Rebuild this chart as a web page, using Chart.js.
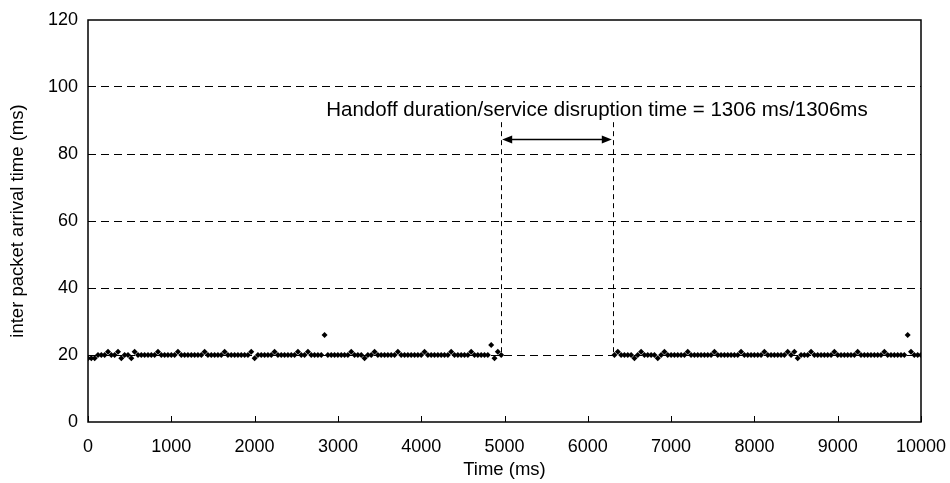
<!DOCTYPE html>
<html lang="en">
<head>
    <meta charset="UTF-8">
    <title>Inter packet arrival time</title>
    <script src="https://cdn.jsdelivr.net/npm/chart.js"></script>
    <style>
        body {
            margin: 0;
            background: #fff;
        }
        #wrap {
            width: 950px;
            height: 483px;
        }
    </style>
</head>
<body>
    <div id="wrap"><canvas id="chart"></canvas></div>

    <script>
        // packet arrival times (ms) before the handoff
        const timesBefore = [
            0,40,80,120,160,200,240,280,320,360,400,440,480,520,560,600,640,680,720,760,800,840,880,920,960,
            1000,1040,1080,1120,1160,1200,1240,1280,1320,1360,1400,1440,1480,1520,1560,1600,1640,1680,1720,1760,1800,1840,1880,1920,1960,
            2000,2040,2080,2120,2160,2200,2240,2280,2320,2360,2400,2440,2480,2520,2560,2600,2640,2680,2720,2760,2800,2840,2880,2920,2960,
            3000,3040,3080,3120,3160,3200,3240,3280,3320,3360,3400,3440,3480,3520,3560,3600,3640,3680,3720,3760,3800,3840,3880,3920,3960,
            4000,4040,4080,4120,4160,4200,4240,4280,4320,4360,4400,4440,4480,4520,4560,4600,4640,4680,4720,4760,4800,4840,4880,4920,4960
        ];
        // inter packet arrival time (ms) before the handoff
        const delaysBefore = [
            19,19,19,20,20,20,21,20,20,21,19,20,20,19,21,20,20,20,20,20,20,21,20,20,20,
            20,20,21,20,20,20,20,20,20,20,21,20,20,20,20,20,21,20,20,20,20,20,20,20,21,
            19,20,20,20,20,20,21,20,20,20,20,20,20,21,20,20,21,20,20,20,20,26,20,20,20,
            20,20,20,20,21,20,20,20,19,20,20,21,20,20,20,20,20,20,21,20,20,20,20,20,20,
            20,21,20,20,20,20,20,20,20,21,20,20,20,20,20,21,20,20,20,20,20,23,19,21,20
        ];
        // packet arrival times (ms) after the handoff
        const timesAfter = [
            6320,6360,6400,6440,6480,6520,6560,6600,6640,6680,6720,6760,6800,6840,6880,6920,6960,
            7000,7040,7080,7120,7160,7200,7240,7280,7320,7360,7400,7440,7480,7520,7560,7600,7640,7680,7720,7760,7800,7840,7880,7920,7960,
            8000,8040,8080,8120,8160,8200,8240,8280,8320,8360,8400,8440,8480,8520,8560,8600,8640,8680,8720,8760,8800,8840,8880,8920,8960,
            9000,9040,9080,9120,9160,9200,9240,9280,9320,9360,9400,9440,9480,9520,9560,9600,9640,9680,9720,9760,9800,9840,9880,9920,9960,
            10000
        ];
        const delaysAfter = [
            20,21,20,20,20,20,19,20,21,20,20,20,20,19,20,21,20,
            20,20,20,20,20,21,20,20,20,20,20,20,20,21,20,20,20,20,20,20,20,21,20,20,20,
            20,20,20,21,20,20,20,20,20,20,21,20,21,19,20,20,20,21,20,20,20,20,20,20,21,
            20,20,20,20,20,20,21,20,20,20,20,20,20,20,21,20,20,20,20,20,20,26,21,20,20,
            20
        ];

        const xTicks = [0,1000,2000,3000,4000,5000,6000,7000,8000,9000,10000];
        const yTicks = [0,20,40,60,80,100,120];

        // handoff annotation
        const handoffStart = 4960;
        const handoffEnd = 6300;
        const arrowLevel = 84.5;
        const markerTop = 89.5;
        const handoffLabel = 'Handoff duration/service disruption time = 1306 ms/1306ms';

        const points = [];
        timesBefore.forEach((t, i) => points.push({x: t, y: delaysBefore[i]}));
        timesAfter.forEach((t, i) => points.push({x: t, y: delaysAfter[i]}));

        const FONT = 'Liberation Sans, Arial, sans-serif';

        const extras = {
            id: 'extras',
            afterDatasetsDraw(chart) {
                const ctx = chart.ctx;
                const a = chart.chartArea;
                const xs = chart.scales.x;
                const ys = chart.scales.y;
                ctx.save();

                // inward ticks on the time axis
                ctx.strokeStyle = '#000';
                ctx.lineWidth = 1;
                xTicks.forEach(v => {
                    const px = Math.round(xs.getPixelForValue(v)) + 0.5;
                    ctx.beginPath();
                    ctx.moveTo(px, a.bottom);
                    ctx.lineTo(px, a.bottom - 6);
                    ctx.stroke();
                });

                // dashed markers of the handoff
                ctx.setLineDash([5, 4]);
                [handoffStart, handoffEnd].forEach(v => {
                    const px = Math.round(xs.getPixelForValue(v)) + 0.5;
                    ctx.beginPath();
                    ctx.moveTo(px, ys.getPixelForValue(markerTop));
                    ctx.lineTo(px, ys.getPixelForValue(20));
                    ctx.stroke();
                });
                ctx.setLineDash([]);

                // double arrow
                const x1 = xs.getPixelForValue(handoffStart) + 1;
                const x2 = xs.getPixelForValue(handoffEnd) - 1;
                const ay = Math.round(ys.getPixelForValue(arrowLevel)) + 0.5;
                ctx.lineWidth = 1.5;
                ctx.beginPath();
                ctx.moveTo(x1 + 6, ay);
                ctx.lineTo(x2 - 6, ay);
                ctx.stroke();
                ctx.fillStyle = '#000';
                ctx.beginPath();
                ctx.moveTo(x1, ay);
                ctx.lineTo(x1 + 10, ay - 4);
                ctx.lineTo(x1 + 10, ay + 4);
                ctx.closePath();
                ctx.fill();
                ctx.beginPath();
                ctx.moveTo(x2, ay);
                ctx.lineTo(x2 - 10, ay - 4);
                ctx.lineTo(x2 - 10, ay + 4);
                ctx.closePath();
                ctx.fill();

                // label
                ctx.font = '20.5px ' + FONT;
                ctx.textAlign = 'right';
                ctx.textBaseline = 'middle';
                ctx.fillText(handoffLabel, xs.getPixelForValue(9360), ys.getPixelForValue(93));

                // plot frame
                ctx.lineWidth = 1.5;
                ctx.strokeRect(a.left, a.top, a.right - a.left, a.bottom - a.top);
                ctx.restore();
            }
        };

        new Chart(document.getElementById('chart'), {
            type: 'scatter',
            data: {
                datasets: [{
                    label: 'inter packet arrival time',
                    data: points,
                    pointStyle: 'rectRot',
                    pointRadius: 3,
                    pointBackgroundColor: '#000',
                    pointBorderWidth: 0
                }]
            },
            options: {
                responsive: true,
                maintainAspectRatio: false,
                animation: false,
                events: [],
                layout: {
                    padding: { top: 20, right: 29, left: 0, bottom: 0 }
                },
                plugins: {
                    legend: { display: false },
                    tooltip: { enabled: false }
                },
                scales: {
                    x: {
                        type: 'linear',
                        min: 0,
                        max: 10000,
                        afterBuildTicks: s => { s.ticks = xTicks.map(v => ({value: v})); },
                        afterFit: s => { s.height = 61; s.paddingLeft = 0; s.paddingRight = 0; },
                        grid: { display: false },
                        border: { display: false },
                        ticks: {
                            color: '#000',
                            padding: 6,
                            maxRotation: 0,
                            callback: v => String(v),
                            font: { family: FONT, size: 18 }
                        },
                        title: {
                            display: true,
                            text: 'Time (ms)',
                            color: '#000',
                            padding: { top: 0, bottom: 2 },
                            font: { family: FONT, size: 18.5 }
                        }
                    },
                    y: {
                        min: 0,
                        max: 120,
                        afterBuildTicks: s => { s.ticks = yTicks.map(v => ({value: v})); },
                        afterFit: s => { s.width = 88; s.paddingTop = 0; s.paddingBottom = 0; },
                        grid: {
                            drawTicks: false,
                            color: c => (c.tick && (c.tick.value === 0 || c.tick.value === 120)) ? 'rgba(0,0,0,0)' : '#000',
                            lineWidth: 1
                        },
                        border: { display: false, dash: [8, 5] },
                        ticks: {
                            color: '#000',
                            padding: 10,
                            font: { family: FONT, size: 18 }
                        },
                        title: {
                            display: true,
                            text: 'inter packet arrival time (ms)',
                            color: '#000',
                            padding: { top: 7, bottom: 0 },
                            font: { family: FONT, size: 18.5 }
                        }
                    }
                }
            },
            plugins: [extras]
        });
    </script>
</body>
</html>
